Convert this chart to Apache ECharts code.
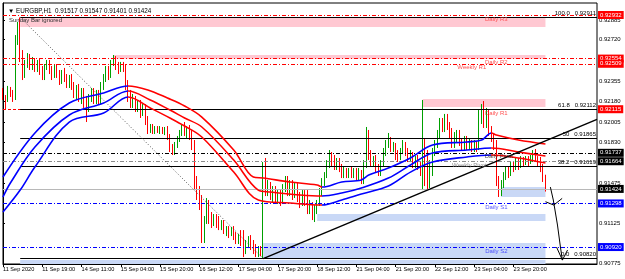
<!DOCTYPE html>
<html><head><meta charset="utf-8">
<script src="https://cdn.jsdelivr.net/npm/echarts@6/dist/echarts.min.js"></script>
<style>html,body{margin:0;padding:0;background:#fff}#c{width:625px;height:279px}</style>
</head><body><div id="c"></div>
<script>
// ---------- data ----------
const symbolTitle = '\u25BC EURGBP,H1  0.91517 0.91547 0.91401 0.91424';
const indicatorNote = 'Sunday Bar ignored';
const timeLabels = ['11 Sep 2020','11 Sep 19:00','14 Sep 11:00','15 Sep 04:00','15 Sep 20:00','16 Sep 12:00','17 Sep 04:00','17 Sep 20:00','18 Sep 12:00','21 Sep 04:00','21 Sep 20:00','22 Sep 12:00','23 Sep 04:00','23 Sep 20:00'];
const priceTicks = [0.92885,0.92720,0.92355,0.92180,0.92005,0.91830,0.91475,0.91125,0.90775];
// hourly bars: [open, high, low, close]
const ohlc = [
[0.92265,0.92299,0.92195,0.92212],[0.92212,0.92238,0.92108,0.92195],[0.92195,0.92317,0.92178,0.92282],[0.92282,0.92308,0.92221,0.92238],[0.92238,0.92282,0.92178,0.92212],
[0.92212,0.92758,0.92195,0.92715],[0.92715,0.92871,0.92672,0.92802],[0.92802,0.92911,0.92524,0.92585],[0.92585,0.92628,0.92368,0.92438],[0.92438,0.92542,0.92386,0.92507],
[0.92507,0.92602,0.92473,0.92559],[0.92559,0.92594,0.92455,0.92490],[0.92490,0.92568,0.92455,0.92542],[0.92542,0.92559,0.92438,0.92473],[0.92473,0.92542,0.92438,0.92516],
[0.92516,0.92559,0.92412,0.92455],[0.92455,0.92490,0.92368,0.92403],[0.92403,0.92507,0.92368,0.92490],[0.92490,0.92542,0.92455,0.92525],[0.92525,0.92542,0.92420,0.92455],
[0.92455,0.92490,0.92368,0.92412],[0.92412,0.92498,0.92386,0.92473],[0.92473,0.92507,0.92386,0.92420],[0.92420,0.92455,0.92325,0.92368],[0.92368,0.92455,0.92334,0.92438],
[0.92438,0.92473,0.92351,0.92386],[0.92386,0.92420,0.92299,0.92334],[0.92334,0.92412,0.92299,0.92386],[0.92386,0.92420,0.92282,0.92317],[0.92317,0.92351,0.92212,0.92247],
[0.92247,0.92325,0.92195,0.92299],[0.92299,0.92334,0.92178,0.92212],[0.92212,0.92299,0.92160,0.92264],[0.92264,0.92299,0.92126,0.92160],[0.92160,0.92230,0.92004,0.92126],
[0.92126,0.92247,0.92091,0.92212],[0.92212,0.92299,0.92178,0.92264],[0.92264,0.92299,0.92160,0.92195],[0.92195,0.92282,0.92160,0.92247],[0.92247,0.92282,0.92160,0.92195],
[0.92195,0.92351,0.92160,0.92317],[0.92317,0.92420,0.92282,0.92386],[0.92386,0.92490,0.92351,0.92455],[0.92455,0.92490,0.92368,0.92403],[0.92403,0.92542,0.92386,0.92525],
[0.92525,0.92585,0.92490,0.92559],[0.92559,0.92576,0.92455,0.92490],[0.92490,0.92525,0.92420,0.92455],[0.92455,0.92525,0.92438,0.92498],[0.92498,0.92525,0.92438,0.92473],
[0.92473,0.92507,0.92282,0.92325],[0.92325,0.92368,0.92178,0.92230],[0.92230,0.92282,0.92126,0.92160],[0.92160,0.92247,0.92126,0.92212],[0.92212,0.92230,0.92091,0.92126],
[0.92126,0.92195,0.92091,0.92178],[0.92178,0.92195,0.92039,0.92091],[0.92091,0.92160,0.92056,0.92143],[0.92143,0.92160,0.91978,0.92021],[0.92021,0.92056,0.91900,0.91935],
[0.91935,0.91987,0.91909,0.91969],[0.91969,0.91987,0.91900,0.91926],[0.91926,0.91969,0.91900,0.91952],[0.91952,0.91969,0.91909,0.91926],[0.91926,0.91969,0.91900,0.91943],
[0.91943,0.91961,0.91900,0.91917],[0.91917,0.91961,0.91891,0.91943],[0.91943,0.91969,0.91848,0.91874],[0.91874,0.91900,0.91744,0.91779],[0.91779,0.91813,0.91718,0.91744],
[0.91744,0.91831,0.91718,0.91804],[0.91804,0.91883,0.91779,0.91865],[0.91865,0.91935,0.91831,0.91917],[0.91917,0.91987,0.91883,0.91969],[0.91969,0.92004,0.91883,0.91917],
[0.91917,0.91969,0.91865,0.91952],[0.91952,0.91978,0.91848,0.91883],[0.91883,0.91935,0.91761,0.91796],[0.91796,0.91848,0.91414,0.91484],[0.91484,0.91536,0.91328,0.91380],
[0.91380,0.91449,0.91241,0.91284],[0.91284,0.91371,0.90955,0.91015],[0.91015,0.91189,0.90955,0.91154],[0.91154,0.91345,0.91120,0.91293],[0.91293,0.91328,0.91120,0.91172],
[0.91172,0.91224,0.91085,0.91120],[0.91120,0.91206,0.91102,0.91180],[0.91180,0.91206,0.91085,0.91120],[0.91120,0.91189,0.91067,0.91102],[0.91102,0.91154,0.91067,0.91137],
[0.91137,0.91154,0.91033,0.91067],[0.91067,0.91102,0.91015,0.91085],[0.91085,0.91102,0.90998,0.91033],[0.91033,0.91094,0.91015,0.91076],[0.91076,0.91102,0.90981,0.91015],
[0.91015,0.91050,0.90946,0.90981],[0.90981,0.91033,0.90946,0.91015],[0.91015,0.91067,0.90929,0.90963],[0.90963,0.91067,0.90833,0.90894],[0.90894,0.90981,0.90859,0.90946],
[0.90946,0.91015,0.90911,0.90998],[0.90998,0.91024,0.90894,0.90929],[0.90929,0.90981,0.90859,0.90894],[0.90894,0.90946,0.90833,0.90859],[0.90859,0.90929,0.90833,0.90894],
[0.90894,0.90929,0.90842,0.90859],[0.90859,0.91657,0.90820,0.91501],[0.91501,0.91692,0.91362,0.91432],[0.91432,0.91501,0.91362,0.91466],[0.91466,0.91484,0.91328,0.91362],
[0.91362,0.91449,0.91310,0.91414],[0.91414,0.91449,0.91293,0.91328],[0.91328,0.91414,0.91293,0.91380],[0.91380,0.91414,0.91276,0.91328],[0.91328,0.91466,0.91293,0.91432],
[0.91432,0.91536,0.91397,0.91501],[0.91501,0.91536,0.91362,0.91397],[0.91397,0.91501,0.91362,0.91466],[0.91466,0.91501,0.91328,0.91371],[0.91371,0.91484,0.91345,0.91449],
[0.91449,0.91484,0.91310,0.91345],[0.91345,0.91397,0.91258,0.91310],[0.91310,0.91414,0.91276,0.91380],[0.91380,0.91414,0.91276,0.91328],[0.91328,0.91414,0.91206,0.91241],
[0.91241,0.91328,0.91206,0.91293],[0.91293,0.91310,0.91154,0.91189],[0.91189,0.91284,0.91137,0.91258],[0.91258,0.91328,0.91206,0.91310],[0.91310,0.91432,0.91276,0.91397],
[0.91397,0.91518,0.91362,0.91484],[0.91484,0.91570,0.91449,0.91544],[0.91544,0.91674,0.91518,0.91640],[0.91640,0.91761,0.91605,0.91709],[0.91709,0.91744,0.91622,0.91657],
[0.91657,0.91718,0.91588,0.91622],[0.91622,0.91692,0.91588,0.91674],[0.91674,0.91692,0.91570,0.91605],[0.91605,0.91640,0.91518,0.91553],[0.91553,0.91622,0.91518,0.91588],
[0.91588,0.91605,0.91518,0.91553],[0.91553,0.91605,0.91518,0.91588],[0.91588,0.91622,0.91518,0.91544],[0.91544,0.91605,0.91518,0.91579],[0.91579,0.91605,0.91501,0.91536],
[0.91536,0.91605,0.91501,0.91570],[0.91570,0.91588,0.91466,0.91492],[0.91492,0.91674,0.91466,0.91631],[0.91631,0.91961,0.91605,0.91900],[0.91900,0.91935,0.91674,0.91718],
[0.91718,0.91761,0.91622,0.91657],[0.91657,0.91709,0.91622,0.91692],[0.91692,0.91718,0.91570,0.91605],[0.91605,0.91640,0.91536,0.91570],[0.91570,0.91674,0.91536,0.91640],
[0.91640,0.91779,0.91622,0.91744],[0.91744,0.91848,0.91709,0.91813],[0.91813,0.91909,0.91779,0.91848],[0.91848,0.91874,0.91744,0.91779],[0.91779,0.91831,0.91744,0.91804],
[0.91804,0.91822,0.91674,0.91709],[0.91709,0.91761,0.91657,0.91692],[0.91692,0.91779,0.91674,0.91753],[0.91753,0.91848,0.91726,0.91813],[0.91813,0.91831,0.91709,0.91744],
[0.91744,0.91779,0.91657,0.91692],[0.91692,0.91761,0.91657,0.91726],[0.91726,0.91744,0.91605,0.91640],[0.91640,0.91709,0.91605,0.91692],[0.91692,0.91718,0.91588,0.91622],
[0.91622,0.91657,0.91536,0.91570],[0.91570,0.92195,0.91414,0.91848],[0.91848,0.91865,0.91449,0.91536],[0.91536,0.91761,0.91414,0.91466],[0.91466,0.91674,0.91432,0.91631],
[0.91631,0.91779,0.91536,0.91744],[0.91744,0.91848,0.91709,0.91813],[0.91813,0.91935,0.91779,0.91900],[0.91900,0.92039,0.91865,0.92004],[0.92004,0.92039,0.91917,0.91952],
[0.91952,0.92074,0.91917,0.92039],[0.92039,0.92074,0.91935,0.91969],[0.91969,0.92004,0.91865,0.91900],[0.91900,0.91952,0.91779,0.91813],[0.91813,0.91917,0.91779,0.91883],
[0.91883,0.91935,0.91831,0.91900],[0.91900,0.91935,0.91796,0.91831],[0.91831,0.91865,0.91761,0.91796],[0.91796,0.91883,0.91761,0.91848],[0.91848,0.91883,0.91761,0.91796],
[0.91796,0.91865,0.91761,0.91831],[0.91831,0.91848,0.91744,0.91787],[0.91787,0.91848,0.91744,0.91822],[0.91822,0.91839,0.91744,0.91779],[0.91779,0.92108,0.91761,0.92039],
[0.92039,0.92160,0.91987,0.92108],[0.92108,0.92186,0.91952,0.92004],[0.92004,0.92126,0.91952,0.92074],[0.92074,0.92108,0.91883,0.91935],[0.91935,0.91969,0.91831,0.91865],
[0.91865,0.91900,0.91761,0.91796],[0.91796,0.91848,0.91449,0.91501],[0.91501,0.91536,0.91354,0.91397],[0.91397,0.91501,0.91362,0.91466],[0.91466,0.91570,0.91432,0.91536],
[0.91536,0.91622,0.91501,0.91588],[0.91588,0.91622,0.91518,0.91553],[0.91553,0.91657,0.91536,0.91631],[0.91631,0.91657,0.91570,0.91605],[0.91605,0.91692,0.91588,0.91657],
[0.91657,0.91692,0.91588,0.91622],[0.91622,0.91709,0.91605,0.91674],[0.91674,0.91701,0.91622,0.91648],[0.91648,0.91709,0.91631,0.91683],[0.91683,0.91709,0.91622,0.91657],
[0.91657,0.91718,0.91640,0.91692],[0.91692,0.91761,0.91657,0.91735],[0.91735,0.91770,0.91657,0.91683],[0.91683,0.91709,0.91622,0.91657],[0.91657,0.91701,0.91570,0.91605],
[0.91605,0.91640,0.91484,0.91518],[0.91517,0.91547,0.91401,0.91424]
];
// moving-average band, sampled [bar, price]
const maUpper = [[0,0.91527],[13,0.91909],[27,0.92169],[41,0.92256],[51,0.92316],[59,0.92282],[67,0.92212],[74,0.92143],[81,0.92047],[94,0.91761],[102,0.91527],[106,0.91518],[117,0.91484],[128,0.91458],[130,0.91440],[138,0.91484],[146,0.91501],[149,0.91544],[157,0.91605],[166,0.91692],[175,0.91804],[189,0.91831],[195,0.91848],[199,0.91909],[201,0.91891],[210,0.91848],[221,0.91813]];
const maMiddle = [[0,0.91354],[3,0.91475],[13,0.91787],[27,0.92065],[41,0.92169],[51,0.92273],[60,0.92195],[68,0.92108],[74,0.92039],[81,0.91961],[94,0.91674],[104,0.91414],[109,0.91397],[121,0.91371],[130,0.91362],[138,0.91388],[146,0.91432],[157,0.91518],[166,0.91631],[175,0.91735],[189,0.91761],[199,0.91779],[210,0.91744],[221,0.91709]];
const maLower = [[0,0.91224],[7,0.91414],[13,0.91614],[27,0.92004],[41,0.92082],[51,0.92221],[60,0.92126],[68,0.92039],[74,0.91969],[81,0.91874],[94,0.91570],[104,0.91328],[117,0.91302],[130,0.91284],[138,0.91328],[146,0.91380],[157,0.91449],[166,0.91570],[175,0.91657],[189,0.91701],[199,0.91718],[210,0.91692],[221,0.91648]];
const trendTurns = [51,130,199]; // bars where the band changes colour
// zones [fromBar, toBar, top, bottom]
const supplyZones = [[7,221,0.92906,0.92828],[45,221,0.92585,0.92553],[171,221,0.92203,0.92134]];
const demandZones = [[203,221,0.91440,0.91354],[128,221,0.91206,0.91145],[106,221,0.90955,0.90825],[7,221,0.90807,0.90773]];
const pivotNames = ['Daily R3','Daily R2','Weekly R1','Daily R1','Daily Pivot','Weekly Pivot','Daily S1','Daily S2'];
const pivotValues = [0.92932,0.92554,0.92509,0.92115,0.91737,0.91664,0.91298,0.90920];
const bidPrice = 0.91424;
const fiboLevels = ['100.0','61.8','50','38.2','0.0'];
const fiboPrices = [0.92911,0.92112,0.91865,0.91619,0.90820];
const fiboAnchor = [[7,0.92911],[106,0.90820]];
const trendLine = [[106,0.90820],[242,0.92027]];
const arrowShaft = [[223,0.91440],[224.2,0.91328],[225.9,0.91111],[227.1,0.90920],[227.9,0.90807]];
const arrowHead1 = [[221,0.91313],[224.4,0.91284],[227.8,0.91342]];
const arrowHead2 = [[225.5,0.90920],[227.9,0.90807],[230,0.90894]];
const totalBars = 243;

// ---------- chart ----------
const FONT = 'Liberation Sans';
const LAST = totalBars - 1;
const cats = [];
for (let k = 0; k < totalBars; k++) cats.push(k % 16 === 0 && timeLabels[k / 16] ? timeLabels[k / 16] : '');
const showIdx = (i) => i % 16 === 0 && i / 16 < timeLabels.length;
const DASHDOT = [4, 2, 1, 2];

const pivotStyle = [
  {c:'#ff0000', t:DASHDOT, box:'#ff0000', tc:'#ff3030', lx:201},
  {c:'#ff0000', t:DASHDOT, box:'#ff0000', tc:'#ff2020', lx:201},
  {c:'#ff0000', t:DASHDOT, box:'#ff0000', tc:'#ff2020', lx:191},
  {c:'#ff0000', t:[3,2], box:'#ff0000', tc:'#ff2020', lx:201},
  {c:'#000000', t:DASHDOT, box:'#000000', tc:'#202020', lx:202},
  {c:'#8a8a8a', t:DASHDOT, box:'#000000', tc:'#707070', lx:190},
  {c:'#0000ff', t:DASHDOT, box:'#0000ff', tc:'#2828ff', lx:201},
  {c:'#0000ff', t:DASHDOT, box:'#0000ff', tc:'#2828ff', lx:201}
];

const boxLabel = (bg, txt) => ({show:true, position:'end', distance:1, formatter: txt, color:'#fff', backgroundColor:bg, fontSize:6, fontFamily:FONT, padding:[1,2,0,2], lineHeight:7});

const markLines = [];
const hLevel = (v, lineStyle, label) => [{coord:[0, v], lineStyle, label}, {coord:[LAST, v]}];
markLines.push(hLevel(bidPrice, {color:'#b8b8b8', type:'solid', width:1}, boxLabel('#000000', bidPrice.toFixed(5))));
pivotValues.forEach((v, i) => {
  const s = pivotStyle[i];
  markLines.push(hLevel(v, {color:s.c, type:s.t, width:1}, boxLabel(s.box, v.toFixed(5))));
});
fiboPrices.forEach((v, i) => {
  markLines.push([
    {coord:[fiboAnchor[0][0], v], lineStyle:{color:'#000', type:'solid', width:1.2},
     label:{show:true, position:'insideEndTop', distance:1, formatter: fiboLevels[i] + '   ' + v.toFixed(5), color:'#000', fontSize:6, fontFamily:FONT}},
    {coord:[LAST, v]}
  ]);
});

const areas = [];
supplyZones.forEach(z => areas.push([{coord:[z[0], z[2]], itemStyle:{color:'#ffc8d2'}}, {coord:[z[1], z[3]]}]));
demandZones.forEach(z => areas.push([{coord:[z[0], z[2]], itemStyle:{color:'#c9d8f6'}}, {coord:[z[1], z[3]]}]));

// one tiny series per pivot caption, so captions never compete with each other
const captionSeries = pivotNames.map((n, i) => ({
  type:'scatter', xAxisIndex:1, symbolSize:0, silent:true, z:20,
  itemStyle:{color:'rgba(0,0,0,0)'},
  data:[[pivotStyle[i].lx, pivotValues[i]]],
  label:{show:true, formatter:n, color:pivotStyle[i].tc, fontSize:6, fontFamily:FONT, position:'bottom', distance:1,
         textBorderWidth:0}
}));

const segLine = (data, color, width, type, z) => ({
  type:'line', xAxisIndex:1, data, symbol:'none', silent:true, animation:false, z: z || 6,
  lineStyle:{color, width, type: type || 'solid'}
});

const maSeries = (data) => ({
  type:'line', xAxisIndex:1, data, symbol:'none', smooth:0.35, silent:true, animation:false, z:5,
  lineStyle:{width:1.6}
});

const option = {
  animation:false,
  backgroundColor:'#ffffff',
  title:[
    {text:symbolTitle, left:3, top:3, textStyle:{fontSize:6.3, fontWeight:'normal', fontFamily:FONT, color:'#000'}},
    {text:indicatorNote, left:4, top:12, textStyle:{fontSize:6, fontWeight:'normal', fontFamily:FONT, color:'#303030'}}
  ],
  grid:{left:2, right:28, top:3, bottom:15, show:true, borderColor:'#000', borderWidth:1, backgroundColor:'#fff'},
  xAxis:[
    {type:'category', data:cats, boundaryGap:false,
     axisLine:{show:true, lineStyle:{color:'#000', width:1}},
     axisTick:{show:true, interval:(i)=>showIdx(i), length:3, lineStyle:{color:'#000'}},
     axisLabel:{interval:(i)=>showIdx(i), align:'left', fontSize:5.6, fontFamily:FONT, color:'#000', margin:2},
     splitLine:{show:false}},
    {type:'value', min:0, max:LAST, show:false}
  ],
  yAxis:{type:'value', position:'right', min:0.90773, max:0.93036, scale:true,
    axisLine:{show:true, lineStyle:{color:'#000'}},
    axisTick:{show:true, length:2, customValues:priceTicks, lineStyle:{color:'#000'}},
    axisLabel:{customValues:priceTicks, formatter:(v)=>v.toFixed(5), fontSize:6, fontFamily:FONT, color:'#000', margin:2},
    splitLine:{show:false}},
  visualMap:[{type:'piecewise', show:false, dimension:0, seriesIndex:[1,2,3],
    pieces:[{lte:trendTurns[0], color:'#0000ff'},{gt:trendTurns[0], lte:trendTurns[1], color:'#ff0000'},{gt:trendTurns[1], lte:trendTurns[2], color:'#0000ff'},{gt:trendTurns[2], color:'#ff0000'}]}],
  series:[
    {type:'line', xAxisIndex:1, data:[[0, null]], symbol:'none', silent:true, z:1,
     markArea:{silent:true, data:areas},
     markLine:{silent:true, symbol:['none','none'], animation:false, data:markLines}},
    maSeries(maUpper), maSeries(maMiddle), maSeries(maLower),
    {type:'candlestick', xAxisIndex:0, z:4, barWidth:1,
     data: ohlc.map(r => [r[0], r[3], r[2], r[1]]),
     itemStyle:{color:'#00a000', color0:'#ff0000', borderColor:'#00a000', borderColor0:'#ff0000', borderWidth:1}},
    segLine(fiboAnchor, '#555555', 1, [1,2], 7),
    segLine(trendLine, '#000000', 1.5, 'solid', 7),
    segLine(arrowShaft, '#000000', 1, 'solid', 8),
    segLine(arrowHead1, '#000000', 1, 'solid', 8),
    segLine(arrowHead2, '#000000', 1, 'solid', 8)
  ].concat(captionSeries)
};
const chart = echarts.init(document.getElementById('c'), null, {renderer:'canvas'});
chart.setOption(option);
</script>
</body></html>
